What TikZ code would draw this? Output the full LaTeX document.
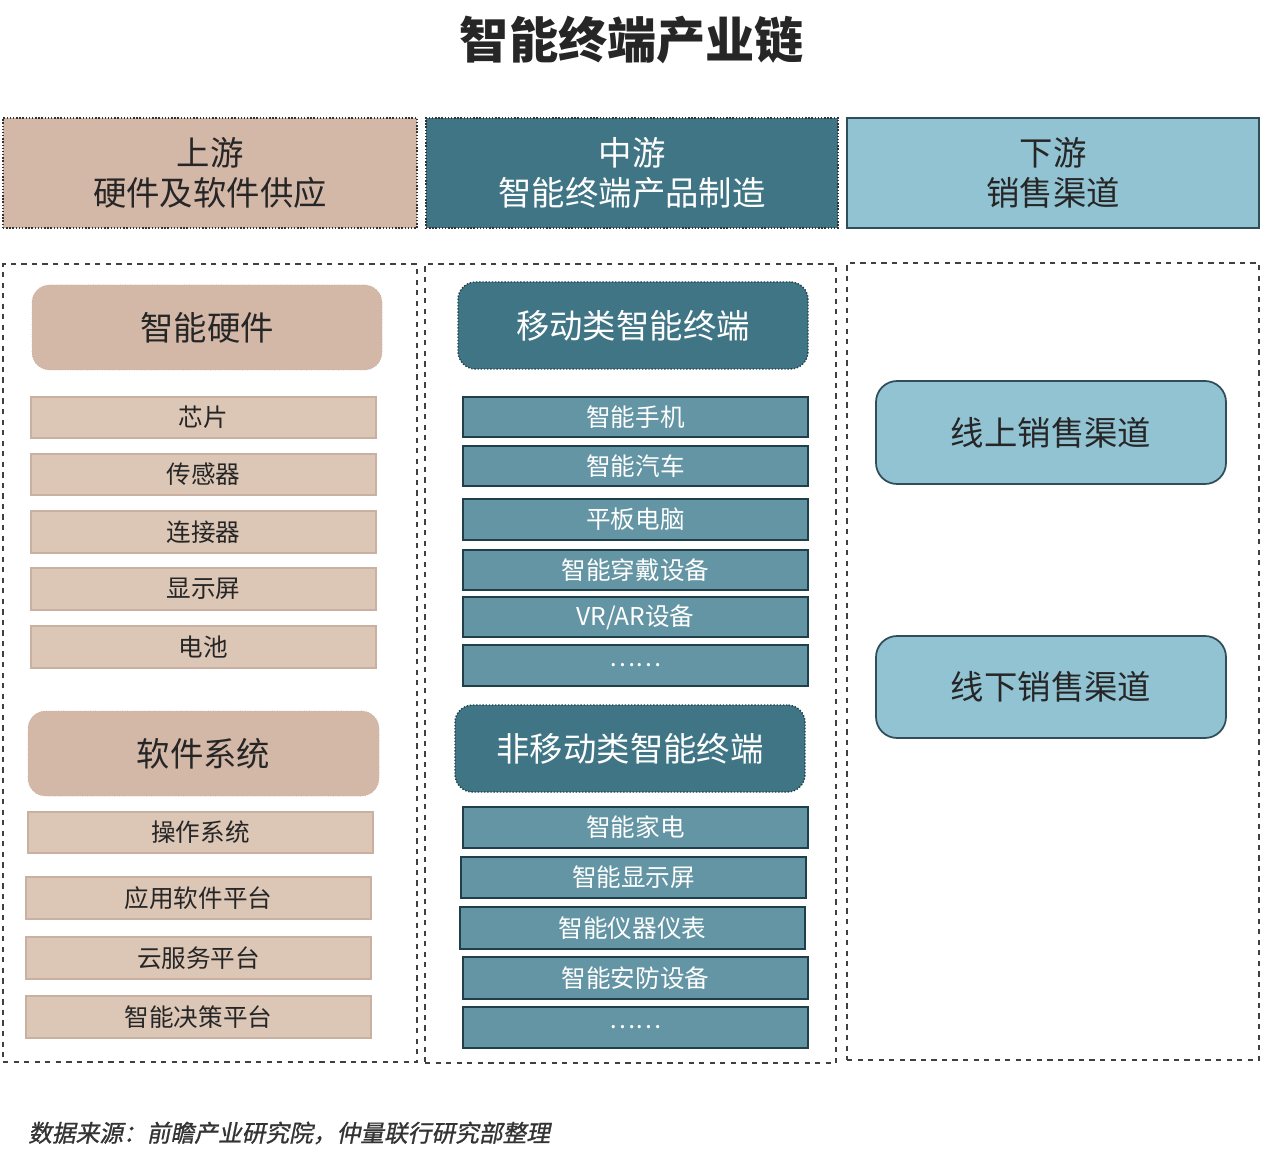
\documentclass[tikz,border=0pt]{standalone}
\usepackage{fontspec}
\setmainfont{Noto Sans CJK SC}
\newfontfamily\slfont[FakeSlant=0.2,FakeBold=1]{Noto Sans CJK SC}
\usetikzlibrary{positioning,calc}
\definecolor{tanhead}{HTML}{D3B8A8}
\definecolor{tanitem}{HTML}{DCC6B6}
\definecolor{tanline}{HTML}{C9B0A0}
\definecolor{tealhead}{HTML}{3F7585}
\definecolor{tealitem}{HTML}{6495A4}
\definecolor{tealline}{HTML}{1F3F4A}
\definecolor{bluehead}{HTML}{92C3D3}
\definecolor{blueline}{HTML}{2F4E5A}
\tikzset{
  headbox/.style={draw=black!80, densely dotted, line width=0.8pt, font=\fontsize{19}{23}\selectfont, align=center, inner sep=0pt},
  panel/.style={draw=black!75, dashed, line width=0.8pt},
  tansub/.style={fill=tanhead, draw=tanline, densely dotted, rounded corners=10pt, font=\fontsize{19}{23}\selectfont, text=black!85},
  tanbar/.style={fill=tanitem, draw=tanline, line width=1pt, font=\fontsize{14}{17}\selectfont, text=black!85},
  tealsub/.style={fill=tealhead, draw=tealline, densely dotted, line width=0.8pt, rounded corners=10pt, font=\fontsize{19}{23}\selectfont, text=white},
  tealbar/.style={fill=tealitem, draw=tealline, line width=1.2pt, font=\fontsize{14}{17}\selectfont, text=white},
  bluebox/.style={fill=bluehead, draw=blueline, line width=1pt, rounded corners=12pt, font=\fontsize{19}{23}\selectfont, text=black!85}
}
% box from pixel corners
\newcommand{\boxat}[7]{\node[#1, minimum width={(#5-#3)*0.02cm}, minimum height={(#6-#4)*0.02cm}, inner sep=0pt] (#2) at ({(#3+#5)/2},{(#4+#6)/2}) {#7};}
\begin{document}
\begin{tikzpicture}[x=0.02cm,y=-0.02cm]
  \useasboundingbox (0,0) rectangle (1265,1155);
  \node[font=\fontsize{28}{32}\selectfont\bfseries, text=black!85] (title) at (632,40) {智能终端产业链};

  \boxat{headbox, fill=tanhead, text=black!85}{up}{3}{118}{417}{228}{上游\\硬件及软件供应}
  \boxat{headbox, fill=tealhead, text=white}{mid}{426}{118}{838}{228}{中游\\智能终端产品制造}
  \boxat{headbox, fill=bluehead, draw=blueline, solid, line width=1.2pt, text=black!85}{down}{847}{118}{1259}{228}{下游\\销售渠道}

  \boxat{panel}{pl}{3}{264}{417}{1062}{}
  \boxat{panel}{pm}{425}{264}{836}{1063}{}
  \boxat{panel}{pr}{847}{263}{1259}{1060}{}

  % upstream
  \boxat{tansub}{hw}{32}{285}{382}{370}{智能硬件}
  \boxat{tanbar}{chip}{31}{397}{376}{438}{芯片}
  \boxat{tanbar}{sens}{31}{454}{376}{495}{传感器}
  \boxat{tanbar}{conn}{31}{511}{376}{553}{连接器}
  \boxat{tanbar}{disp}{31}{568}{376}{610}{显示屏}
  \boxat{tanbar}{batt}{31}{626}{376}{668}{电池}
  \boxat{tansub}{sw}{28}{711}{379}{796}{软件系统}
  \boxat{tanbar}{os}{28}{812}{373}{853}{操作系统}
  \boxat{tanbar}{app}{26}{877}{371}{919}{应用软件平台}
  \boxat{tanbar}{cloud}{26}{937}{371}{979}{云服务平台}
  \boxat{tanbar}{dec}{26}{996}{371}{1038}{智能决策平台}

  % midstream
  \boxat{tealsub}{mob}{458}{282}{808}{369}{移动类智能终端}
  \boxat{tealbar}{phone}{463}{397}{808}{437}{智能手机}
  \boxat{tealbar}{car}{463}{446}{808}{486}{智能汽车}
  \boxat{tealbar}{pad}{463}{499}{808}{540}{平板电脑}
  \boxat{tealbar}{wear}{463}{550}{808}{590}{智能穿戴设备}
  \boxat{tealbar}{vr}{463}{597}{808}{637}{VR/AR设备}
  \boxat{tealbar}{moremob}{463}{645}{808}{686}{……}
  \boxat{tealsub}{fix}{455}{705}{805}{792}{非移动类智能终端}
  \boxat{tealbar}{home}{463}{807}{808}{848}{智能家电}
  \boxat{tealbar}{screen}{461}{857}{806}{898}{智能显示屏}
  \boxat{tealbar}{meter}{460}{907}{805}{949}{智能仪器仪表}
  \boxat{tealbar}{secur}{463}{957}{808}{999}{智能安防设备}
  \boxat{tealbar}{morefix}{463}{1007}{808}{1048}{……}

  % downstream
  \boxat{bluebox}{online}{876}{381}{1226}{484}{线上销售渠道}
  \boxat{bluebox}{offline}{876}{636}{1226}{738}{线下销售渠道}

  \node[anchor=west, font=\fontsize{13.5}{16}\slfont, text=black!80] (src) at (22,1133) {数据来源：前瞻产业研究院，仲量联行研究部整理};
\end{tikzpicture}
\end{document}
